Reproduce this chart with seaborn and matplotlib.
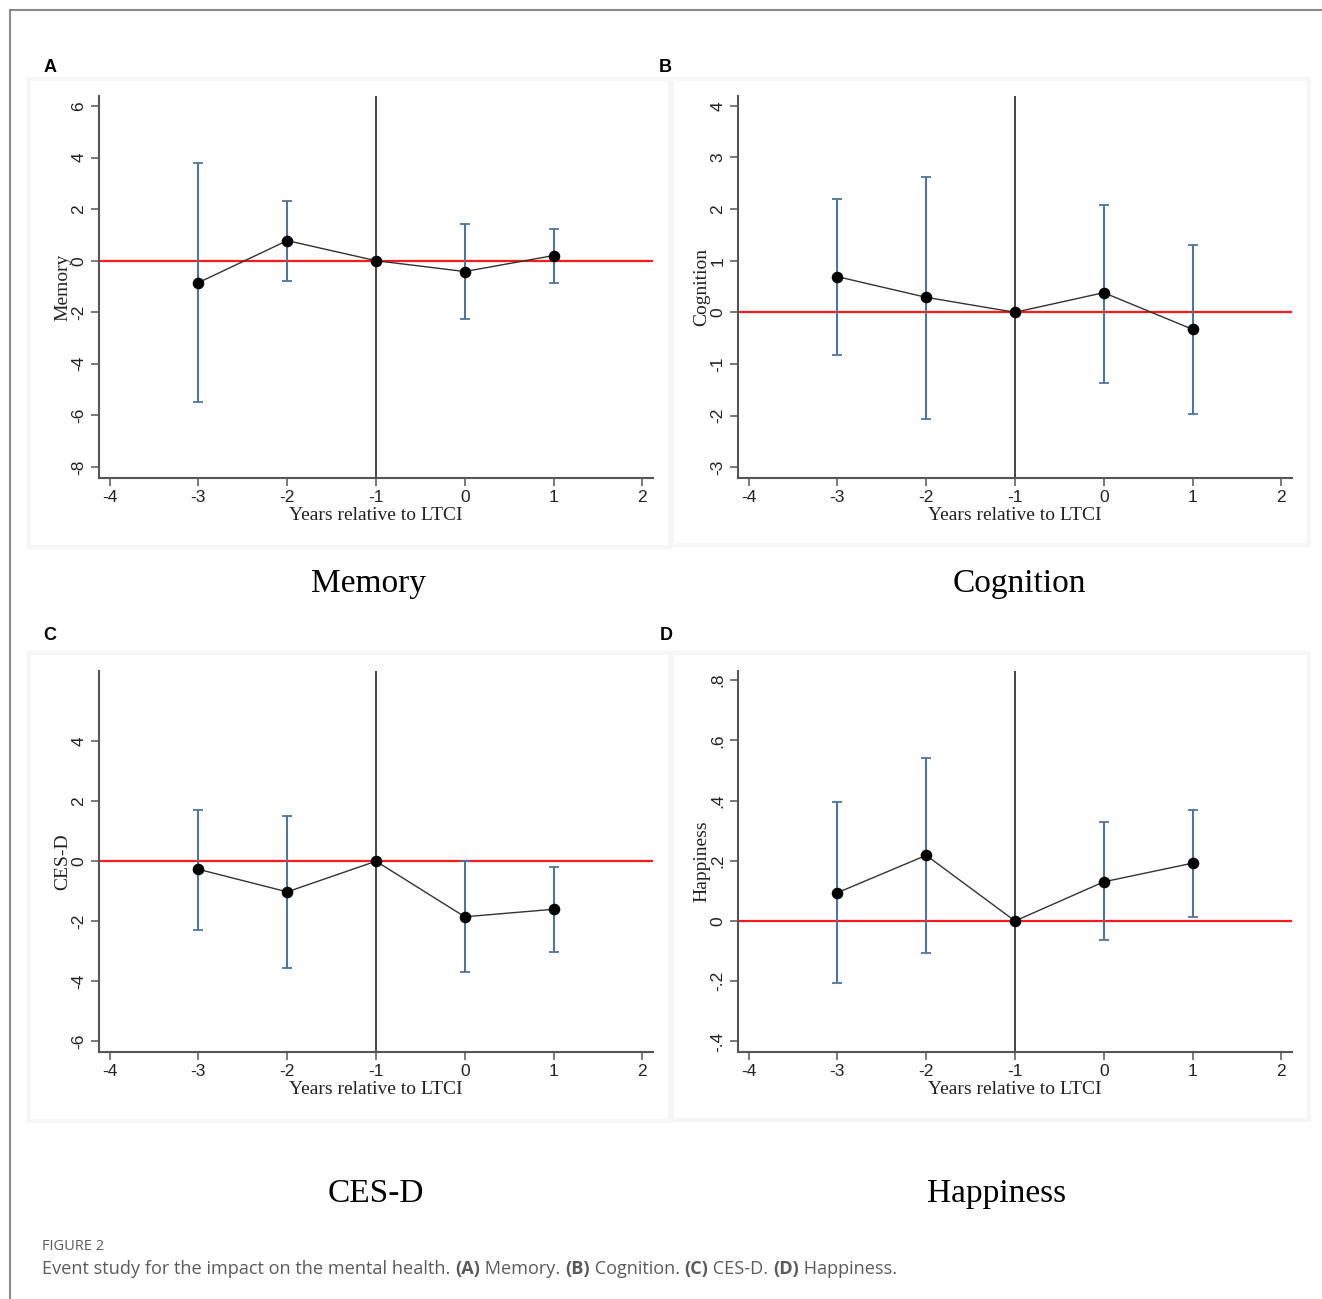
import numpy as np
import pandas as pd
import matplotlib
matplotlib.use('Agg')
import matplotlib.pyplot as plt
import seaborn as sns
from matplotlib.patches import Rectangle
from matplotlib.lines import Line2D

# Datos (coeficiente e intervalo de confianza)
years = [-3, -2, -1, 0, 1]

memory_coef = [-0.85, 0.78, 0.0, -0.42, 0.20]
memory_lo = [-5.48, -0.80, np.nan, -2.28, -0.87]
memory_hi = [3.80, 2.33, np.nan, 1.42, 1.22]

cognition_coef = [0.69, 0.29, 0.0, 0.38, -0.33]
cognition_lo = [-0.82, -2.06, np.nan, -1.37, -1.97]
cognition_hi = [2.19, 2.63, np.nan, 2.08, 1.30]

cesd_coef = [-0.27, -1.02, 0.0, -1.85, -1.60]
cesd_lo = [-2.30, -3.56, np.nan, -3.68, -3.02]
cesd_hi = [1.71, 1.49, np.nan, 0.0, -0.19]

happy_coef = [0.094, 0.218, 0.0, 0.130, 0.192]
happy_lo = [-0.205, -0.105, np.nan, -0.064, 0.012]
happy_hi = [0.395, 0.540, np.nan, 0.327, 0.370]

x_ticks = [-4, -3, -2, -1, 0, 1, 2]
memory_ticks = [-8, -6, -4, -2, 0, 2, 4, 6]
cognition_ticks = [-3, -2, -1, 0, 1, 2, 3, 4]
cesd_ticks = [-6, -4, -2, 0, 2, 4]
happy_ticks = [-0.4, -0.2, 0, 0.2, 0.4, 0.6, 0.8]
happy_labels = ['-.4', '-.2', '0', '.2', '.4', '.6', '.8']

W, H = 1322, 1299
sns.set_theme(style='white')
plt.rcParams['font.family'] = ['Liberation Sans', 'DejaVu Sans']

fig = plt.figure(figsize=(W / 100, H / 100), dpi=100)
fig.patch.set_facecolor('white')

def px_rect(x0, y0, x1, y1):
    return [x0 / W, 1 - y1 / H, (x1 - x0) / W, (y1 - y0) / H]

# Borde de la figura
fig.add_artist(Line2D([10 / W, 1], [1 - 10 / H, 1 - 10 / H], color='#8a8a8a', lw=1.5))
fig.add_artist(Line2D([10 / W, 10 / W], [1 - 10 / H, 0], color='#8a8a8a', lw=1.5))

serif = ['Liberation Serif', 'DejaVu Serif']
err_color = '#4f74a0'

def panel(box, axrect, coef, lo, hi, ylim, yticks, ylabels, ylabel, letter, letter_xy, title, title_xy):
    # recuadro gris muy claro de la región del gráfico
    bx0, by0, bx1, by1 = box
    fig.add_artist(Rectangle((bx0 / W, 1 - by1 / H), (bx1 - bx0) / W, (by1 - by0) / H,
                             transform=fig.transFigure, facecolor='white',
                             edgecolor='#f6f6f6', lw=3, zorder=0))
    ax = fig.add_axes(px_rect(*axrect))
    ax.set_facecolor('none')
    df = pd.DataFrame({'year': years, 'coef': coef, 'lo': lo, 'hi': hi})

    ax.axhline(0, color='#ff1a1a', lw=1.6, zorder=2)
    ax.axvline(-1, color='#111111', lw=1.1, zorder=2)
    ci = df.dropna()
    ax.errorbar(ci['year'], (ci['lo'] + ci['hi']) / 2,
                yerr=(ci['hi'] - ci['lo']) / 2, fmt='none',
                ecolor=err_color, elinewidth=1.5, capsize=3.5, capthick=1.3, zorder=3)
    sns.lineplot(data=df, x='year', y='coef', ax=ax, color='#333333', lw=1.0,
                 zorder=4, legend=False)
    sns.scatterplot(data=df, x='year', y='coef', ax=ax, color='black', s=70,
                    edgecolor='black', linewidth=0, zorder=5, legend=False)

    ax.set_xlim(-4.12, 2.12)
    ax.set_ylim(*ylim)
    ax.set_xticks(x_ticks)
    ax.set_xticklabels([str(v) for v in x_ticks])
    ax.set_yticks(yticks)
    ax.set_yticklabels(ylabels, rotation=90, va='center')
    for side in ['top', 'right']:
        ax.spines[side].set_visible(False)
    for side in ['left', 'bottom']:
        ax.spines[side].set_color('#555555')
        ax.spines[side].set_linewidth(1.5)
    ax.tick_params(axis='both', direction='out', length=6, width=1.1, color='#555555',
                   labelsize=12.5, labelcolor='#222222', pad=3,
                   bottom=True, left=True)
    ax.set_xlabel('Years relative to LTCI', family=serif, fontsize=14, color='#222222', labelpad=1)
    ax.set_ylabel(ylabel, family=serif, fontsize=14, color='#222222', labelpad=0)

    fig.text(letter_xy[0] / W, 1 - letter_xy[1] / H, letter, fontsize=13, weight='bold',
             color='black', ha='center', va='center')
    fig.text(title_xy[0] / W, 1 - title_xy[1] / H, title, family=serif, fontsize=24,
             color='black', ha='center', va='center')
    return ax

panel((29, 79, 670, 547), (99, 96, 653, 478), memory_coef, memory_lo, memory_hi,
      (-8.43, 6.39), memory_ticks, [str(v) for v in memory_ticks], 'Memory',
      'A', (50, 68), 'Memory', (368, 584))
panel((672, 79, 1309, 545), (738, 96, 1292, 478), cognition_coef, cognition_lo, cognition_hi,
      (-3.21, 4.19), cognition_ticks, [str(v) for v in cognition_ticks], 'Cognition',
      'B', (665, 68), 'Cognition', (1019, 584))
panel((29, 653, 670, 1121), (99, 671, 653, 1052), cesd_coef, cesd_lo, cesd_hi,
      (-6.35, 6.33), cesd_ticks, [str(v) for v in cesd_ticks], 'CES-D',
      'C', (50, 636), 'CES-D', (376, 1194))
panel((672, 653, 1309, 1120), (738, 671, 1292, 1052), happy_coef, happy_lo, happy_hi,
      (-0.435, 0.83), happy_ticks, happy_labels, 'Happiness',
      'D', (666, 636), 'Happiness', (997, 1194))

# Pie de figura
cap_color = '#5a5a5a'
fig.text(42 / W, 1 - 1250 / H, 'FIGURE 2', family=['Open Sans', 'DejaVu Sans'], fontsize=10.5,
         color=cap_color, va='baseline')

parts = [('Event study for the impact on the mental health. ', 'normal'),
         ('(A)', 'bold'), (' Memory. ', 'normal'),
         ('(B)', 'bold'), (' Cognition. ', 'normal'),
         ('(C)', 'bold'), (' CES-D. ', 'normal'),
         ('(D)', 'bold'), (' Happiness.', 'normal')]
renderer = fig.canvas.get_renderer()
x = 42 / W
for s, w in parts:
    t = fig.text(x, 1 - 1274 / H, s, family=['Open Sans', 'DejaVu Sans'], fontsize=13.1,
                 weight=w, color=cap_color, va='baseline')
    x += t.get_window_extent(renderer).width / W

fig.savefig('out.png', dpi=100)
